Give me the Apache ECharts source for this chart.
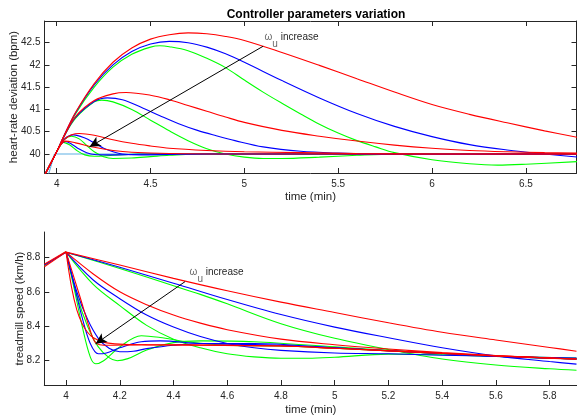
<!DOCTYPE html>
<html>
<head>
<meta charset="utf-8">
<script src="https://cdn.jsdelivr.net/npm/echarts@6/dist/echarts.min.js"></script>
<style>html,body{margin:0;padding:0;background:#fff}#c{width:577px;height:420px}</style>
</head>
<body>
<div id="c"></div>
<script>
// ---------- tick labels ----------
const hrTicksX = [4, 4.5, 5, 5.5, 6, 6.5];
const hrTicksY = [40, 40.5, 41, 41.5, 42, 42.5];
const spTicksX = [4, 4.2, 4.4, 4.6, 4.8, 5, 5.2, 5.4, 5.6, 5.8];
const spTicksY = [8.2, 8.4, 8.6, 8.8];

// ---------- heart-rate deviation (bpm) vs time (min) ----------
const hrRef = [[3.955,39.52],[3.988,40.0],[6.78,40.0]];
const hrR1 = [[3.935,39.52],[4.0,40.05],[4.04,40.42],[4.1,40.93],[4.2,41.58],[4.3,42.06],[4.4,42.38],[4.5,42.58],[4.6,42.68],[4.7,42.72],[4.8,42.70],[4.9,42.64],[5.0,42.55],[5.2,42.28],[5.4,41.99],[5.6,41.69],[5.8,41.39],[6.0,41.11],[6.2,40.89],[6.4,40.70],[6.6,40.52],[6.78,40.37]];
const hrB1 = [[3.935,39.52],[4.0,40.05],[4.04,40.42],[4.1,40.92],[4.2,41.55],[4.3,42.0],[4.4,42.3],[4.5,42.47],[4.6,42.53],[4.7,42.50],[4.8,42.40],[4.9,42.25],[5.0,42.06],[5.2,41.65],[5.4,41.26],[5.6,40.91],[5.8,40.62],[6.0,40.39],[6.2,40.21],[6.4,40.09],[6.6,40.0],[6.78,39.93]];
const hrG1 = [[3.935,39.52],[4.0,40.05],[4.04,40.41],[4.1,40.9],[4.2,41.50],[4.3,41.95],[4.4,42.24],[4.5,42.40],[4.55,42.43],[4.6,42.41],[4.7,42.32],[4.8,42.15],[4.9,41.94],[5.0,41.66],[5.1,41.39],[5.2,41.14],[5.3,40.90],[5.4,40.67],[5.5,40.47],[5.6,40.30],[5.7,40.16],[5.8,40.03],[6.0,39.87],[6.2,39.78],[6.35,39.75],[6.5,39.77],[6.78,39.83]];
const hrR2 = [[3.935,39.52],[4.0,40.05],[4.04,40.40],[4.1,40.84],[4.2,41.2],[4.3,41.35],[4.37,41.38],[4.5,41.32],[4.6,41.22],[4.7,41.09],[4.8,40.96],[4.9,40.83],[5.0,40.71],[5.2,40.53],[5.4,40.40],[5.6,40.29],[5.8,40.20],[6.0,40.13],[6.2,40.08],[6.4,40.05],[6.6,40.03],[6.78,40.02]];
const hrB2 = [[3.935,39.52],[4.0,40.05],[4.04,40.40],[4.1,40.82],[4.2,41.18],[4.27,41.26],[4.35,41.22],[4.45,41.05],[4.55,40.86],[4.65,40.68],[4.75,40.53],[4.85,40.41],[4.95,40.30],[5.1,40.16],[5.3,40.06],[5.5,40.02],[5.8,39.99],[6.2,39.99],[6.78,40.0]];
const hrG2 = [[3.935,39.52],[4.0,40.05],[4.04,40.40],[4.1,40.80],[4.2,41.17],[4.24,41.21],[4.3,41.17],[4.4,41.0],[4.5,40.76],[4.6,40.52],[4.7,40.30],[4.8,40.12],[4.9,40.0],[5.0,39.93],[5.1,39.90],[5.2,39.90],[5.4,39.93],[5.6,39.97],[5.8,40.0],[6.2,40.01],[6.78,40.0]];
const hrR3 = [[3.935,39.52],[4.0,40.05],[4.04,40.32],[4.08,40.43],[4.12,40.46],[4.2,40.42],[4.3,40.32],[4.4,40.24],[4.5,40.18],[4.6,40.13],[4.8,40.08],[5.0,40.05],[5.3,40.03],[5.6,40.01],[6.0,40.0],[6.78,40.0]];
const hrB3 = [[3.935,39.52],[4.0,40.05],[4.04,40.33],[4.09,40.43],[4.15,40.36],[4.2,40.25],[4.25,40.13],[4.3,40.05],[4.35,40.0],[4.45,39.98],[4.6,39.99],[4.8,40.0],[6.78,40.0]];
const hrG3 = [[3.935,39.52],[4.0,40.05],[4.04,40.32],[4.08,40.40],[4.12,40.34],[4.16,40.19],[4.2,40.05],[4.25,39.94],[4.3,39.90],[4.4,39.91],[4.5,39.94],[4.6,39.97],[4.8,40.0],[6.78,40.0]];
const hrR4 = [[3.935,39.52],[4.0,40.05],[4.02,40.2],[4.045,40.29],[4.1,40.25],[4.2,40.15],[4.3,40.08],[4.4,40.04],[4.6,40.01],[5.0,40.0],[6.78,40.0]];
const hrB4 = [[3.935,39.52],[4.0,40.05],[4.02,40.2],[4.045,40.28],[4.08,40.22],[4.12,40.11],[4.16,40.03],[4.2,39.99],[4.3,39.98],[4.5,40.0],[6.78,40.0]];
const hrG4 = [[3.935,39.52],[4.0,40.05],[4.02,40.2],[4.035,40.26],[4.07,40.2],[4.11,40.07],[4.15,39.98],[4.2,39.95],[4.3,39.97],[4.45,40.0],[6.78,40.0]];

// ---------- treadmill speed (km/h) vs time (min) ----------
const spRampG = [[3.919,8.752],[4.0,8.832]];
const spRampB = [[3.919,8.756],[4.0,8.83]];
const spRampR = [[3.919,8.745],[4.0,8.83]];
const spRampR2 = [[3.919,8.76],[4.0,8.834]];
const spR1 = [[4.0,8.83],[4.2,8.755],[4.4,8.678],[4.6,8.606],[4.8,8.54],[5.0,8.48],[5.2,8.42],[5.4,8.365],[5.6,8.32],[5.8,8.277],[5.9,8.255]];
const spB1 = [[4.0,8.83],[4.2,8.742],[4.4,8.65],[4.6,8.555],[4.8,8.468],[5.0,8.395],[5.2,8.333],[5.4,8.275],[5.6,8.228],[5.8,8.195],[5.9,8.18]];
const spG1 = [[4.0,8.83],[4.2,8.735],[4.4,8.635],[4.5,8.585],[4.6,8.53],[4.8,8.415],[5.0,8.33],[5.2,8.265],[5.4,8.21],[5.6,8.175],[5.8,8.153],[5.9,8.145]];
const spR2 = [[4.0,8.83],[4.1,8.705],[4.2,8.6],[4.3,8.525],[4.4,8.465],[4.5,8.418],[4.6,8.38],[4.8,8.325],[5.0,8.293],[5.2,8.268],[5.4,8.247],[5.6,8.23],[5.8,8.215],[5.9,8.21]];
const spB2 = [[4.0,8.83],[4.1,8.67],[4.2,8.56],[4.3,8.465],[4.4,8.395],[4.5,8.34],[4.6,8.30],[4.7,8.275],[4.8,8.26],[5.0,8.245],[5.2,8.24],[5.4,8.232],[5.6,8.225],[5.9,8.215]];
const spG2 = [[4.0,8.83],[4.1,8.645],[4.2,8.52],[4.3,8.405],[4.4,8.325],[4.5,8.275],[4.6,8.24],[4.7,8.222],[4.8,8.214],[4.9,8.214],[5.0,8.22],[5.2,8.238],[5.4,8.235],[5.6,8.225],[5.9,8.215]];
const spR3 = [[4.0,8.83],[4.02,8.63],[4.04,8.495],[4.06,8.415],[4.08,8.365],[4.1,8.335],[4.14,8.308],[4.2,8.296],[4.3,8.292],[4.5,8.29],[4.8,8.285],[5.0,8.272],[5.3,8.25],[5.6,8.228],[5.9,8.21]];
const spB3 = [[4.0,8.83],[4.04,8.6],[4.08,8.44],[4.12,8.33],[4.16,8.272],[4.2,8.252],[4.25,8.255],[4.3,8.27],[4.4,8.29],[4.5,8.3],[4.7,8.3],[5.0,8.275],[5.3,8.25],[5.6,8.226],[5.9,8.21]];
const spG3 = [[4.0,8.83],[4.04,8.58],[4.08,8.4],[4.12,8.28],[4.16,8.218],[4.19,8.2],[4.23,8.212],[4.3,8.262],[4.4,8.305],[4.5,8.315],[4.7,8.31],[5.0,8.28],[5.3,8.25],[5.6,8.226],[5.9,8.21]];
const spR4 = [[4.0,8.83],[4.05,8.58],[4.1,8.33],[4.115,8.298],[4.14,8.29],[4.3,8.293],[4.6,8.29],[4.8,8.285],[5.0,8.272],[5.3,8.25],[5.6,8.228],[5.9,8.21]];
const spB4 = [[4.0,8.83],[4.03,8.64],[4.06,8.45],[4.09,8.3],[4.12,8.24],[4.15,8.245],[4.2,8.275],[4.28,8.31],[4.35,8.315],[4.5,8.3],[4.8,8.29],[5.0,8.275],[5.3,8.25],[5.6,8.226],[5.9,8.21]];
const spG4 = [[4.0,8.83],[4.03,8.62],[4.06,8.4],[4.09,8.222],[4.11,8.182],[4.14,8.2],[4.2,8.28],[4.28,8.345],[4.35,8.335],[4.45,8.31],[4.6,8.29],[4.8,8.285],[5.0,8.272],[5.3,8.25],[5.6,8.226],[5.9,8.21]];

// ---------- annotations (data coordinates) ----------
const hrArrowFrom = [5.10, 42.42], hrArrowTo = [4.175, 40.16], hrNoteAt = [5.105, 42.63];
const spArrowFrom = [4.443, 8.659], spArrowTo = [4.11, 8.298], spNoteAt = [4.458, 8.712];

const FONT = 'Liberation Sans, Arial, Helvetica, sans-serif';
const AX = '#262626';
const RED = '#ff0000', BLUE = '#0000ff', GREEN = '#00ff00', LBLUE = '#5fb0e4';

function line(data, color, grid, extra) {
  return Object.assign({
    type: 'line', data: data, xAxisIndex: grid === 0 ? 0 : 2, yAxisIndex: grid === 0 ? 0 : 2,
    showSymbol: false, symbol: 'none', smooth: 0.35, clip: true, silent: true,
    lineStyle: { color: color, width: 1.1 }, z: 2
  }, extra || {});
}
function note(from, to, at) {
  return {
    markLine: {
      silent: true, symbol: ['none', 'arrow'], symbolSize: [8, 11], animation: false,
      lineStyle: { color: '#000', width: 1, type: 'solid' }, label: { show: false },
      data: [[{ coord: from }, { coord: to }]]
    },
    markPoint: {
      silent: true, symbol: 'circle', symbolSize: 1, animation: false,
      itemStyle: { color: 'rgba(0,0,0,0)' },
      label: {
        show: true, position: 'right', distance: 0,
        formatter: '{w|ω}{u|u}{t| increase}',
        rich: {
          w: { fontSize: 10, color: '#6a6a6a', fontFamily: FONT },
          u: { fontSize: 10, color: '#6a6a6a', fontFamily: FONT, verticalAlign: 'bottom', lineHeight: 24 },
          t: { fontSize: 10, color: AX, fontFamily: FONT }
        }
      },
      data: [{ coord: at }]
    }
  };
}
function ax(base) {
  return Object.assign({
    type: 'value', splitLine: { show: false },
    axisLine: { show: true, lineStyle: { color: AX, width: 1 } },
    nameTextStyle: { color: AX, fontSize: 11.5, fontFamily: FONT },
    nameLocation: 'middle', nameMoveOverlap: false
  }, base);
}
const fmt = v => String(+v.toFixed(2));

const series = [
  line(hrRef, LBLUE, 0, { smooth: false }),
  line(hrG1, GREEN, 0), line(hrG2, GREEN, 0), line(hrG3, GREEN, 0), line(hrG4, GREEN, 0),
  line(hrB1, BLUE, 0), line(hrB2, BLUE, 0), line(hrB3, BLUE, 0), line(hrB4, BLUE, 0),
  line(hrR1, RED, 0), line(hrR2, RED, 0), line(hrR3, RED, 0),
  line(hrR4, RED, 0, note(hrArrowFrom, hrArrowTo, hrNoteAt)),
  line(spRampG, GREEN, 1, { smooth: false }), line(spRampB, BLUE, 1, { smooth: false }),
  line(spG1, GREEN, 1), line(spG2, GREEN, 1), line(spG3, GREEN, 1), line(spG4, GREEN, 1),
  line(spB1, BLUE, 1), line(spB2, BLUE, 1), line(spB3, BLUE, 1), line(spB4, BLUE, 1),
  line(spRampR, RED, 1, { smooth: false }), line(spRampR2, RED, 1, { smooth: false }),
  line(spR1, RED, 1), line(spR2, RED, 1), line(spR3, RED, 1),
  line(spR4, RED, 1, note(spArrowFrom, spArrowTo, spNoteAt))
];

const chart = echarts.init(document.getElementById('c'), null, { renderer: 'canvas' });
chart.setOption({
  animation: false,
  backgroundColor: '#fff',
  title: {
    text: 'Controller parameters variation', left: 311, top: 4, textAlign: 'center',
    textStyle: { fontSize: 12, fontWeight: 'bold', color: '#000', fontFamily: FONT }
  },
  grid: [
    { left: 44.5, top: 21, width: 532, height: 152, outerBoundsMode: 'none', containLabel: false },
    { left: 44.3, top: 232, width: 533, height: 153, outerBoundsMode: 'none', containLabel: false }
  ],
  xAxis: [
    ax({ gridIndex: 0, min: 3.935, max: 6.77, name: 'time (min)', nameGap: 18,
      axisTick: { show: true, inside: true, length: 5, customValues: hrTicksX, lineStyle: { color: AX } },
      axisLabel: { show: true, customValues: hrTicksX, formatter: fmt, color: AX, fontSize: 10, fontFamily: FONT, margin: 6 } }),
    ax({ gridIndex: 0, min: 3.935, max: 6.77, position: 'top',
      axisTick: { show: true, inside: true, length: 5, customValues: hrTicksX, lineStyle: { color: AX } },
      axisLabel: { show: false } }),
    ax({ gridIndex: 1, min: 3.919, max: 5.903, name: 'time (min)', nameGap: 19,
      axisTick: { show: true, inside: true, length: 5, customValues: spTicksX, lineStyle: { color: AX } },
      axisLabel: { show: true, customValues: spTicksX, formatter: fmt, color: AX, fontSize: 10, fontFamily: FONT, margin: 6 } })
  ],
  yAxis: [
    ax({ gridIndex: 0, min: 39.573, max: 42.987, name: 'heart-rate deviation (bpm)', nameGap: 25,
      axisTick: { show: true, inside: true, length: 5, customValues: hrTicksY, lineStyle: { color: AX } },
      axisLabel: { show: true, customValues: hrTicksY, formatter: fmt, color: AX, fontSize: 10, fontFamily: FONT, margin: 4 } }),
    ax({ gridIndex: 0, min: 39.573, max: 42.987, position: 'right',
      axisTick: { show: true, inside: true, length: 5, customValues: hrTicksY, lineStyle: { color: AX } },
      axisLabel: { show: false } }),
    ax({ gridIndex: 1, min: 8.059, max: 8.947, name: 'treadmill speed (km/h)', nameGap: 18,
      axisTick: { show: true, inside: true, length: 5, customValues: spTicksY, lineStyle: { color: AX } },
      axisLabel: { show: true, customValues: spTicksY, formatter: fmt, color: AX, fontSize: 10, fontFamily: FONT, margin: 4 } })
  ],
  series: series
});
</script>
</body>
</html>
